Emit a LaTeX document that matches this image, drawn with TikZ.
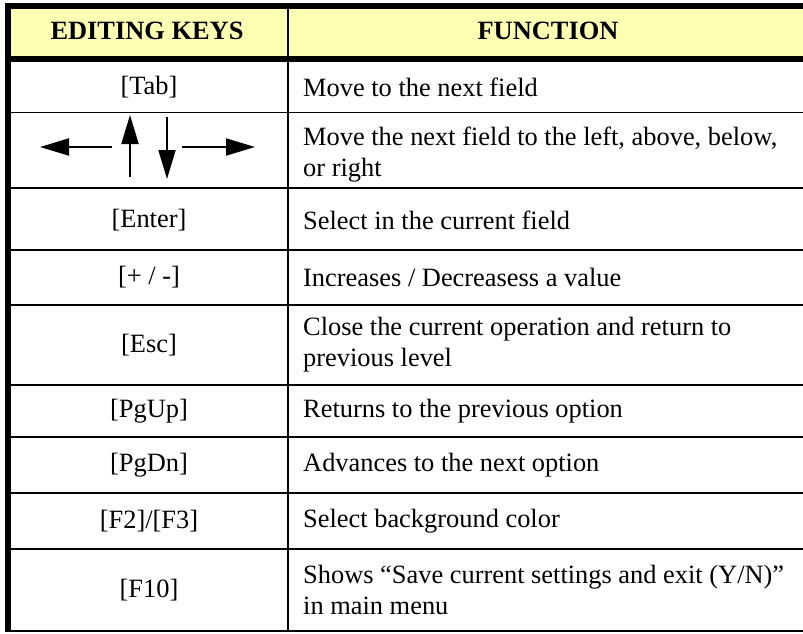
\documentclass[tikz,border=0pt]{standalone}
\usepackage{fontspec}
\setmainfont{Liberation Serif}
\usetikzlibrary{arrows.meta}
\definecolor{hdryellow}{RGB}{255,255,179}
\tikzset{
  cell/.style={inner sep=0pt, font=\fontsize{26.4}{31}\selectfont},
  keycell/.style={cell, anchor=center},
  funccell/.style={cell, anchor=west, align=left},
  hdr/.style={inner sep=0pt, font=\fontsize{26.4}{30}\selectfont\bfseries},
  thin/.style={line width=1.2pt},
  thick/.style={line width=6pt},
  keyarrow/.style={line width=2pt, -{Triangle[length=29pt,width=17pt]}}
}
\begin{document}
\begin{tikzpicture}[x=1pt,y=-1pt]
\useasboundingbox (0,0) rectangle (803,633);
% header fill
\fill[hdryellow] (11,8) rectangle (803,56);
% row lines
\foreach \yy in {112.5,188,250,305,385,437,493,549,631}
  \draw[thin] (11,\yy) -- (803,\yy);
% column divider
\draw[line width=1.5pt] (288,8) -- (288,631);
% thick borders
\draw[thick] (5,5.5) -- (803,5.5);
\draw[thick] (5,59) -- (803,59);
\draw[thick] (8,2.5) -- (8,631.6);
% headers
\node[hdr] (h1) at (147,31) {EDITING KEYS};
\node[hdr] (h2) at (548,31) {FUNCTION};
% key column
\node[keycell] (k1) at (149,87.5) {[Tab]};
\node[keycell] (k3) at (149,220) {[Enter]};
\node[keycell] (k4) at (149,277.5) {[+ / -]};
\node[keycell] (k5) at (149,345) {[Esc]};
\node[keycell] (k6) at (149,411) {[PgUp]};
\node[keycell] (k7) at (149,465) {[PgDn]};
\node[keycell] (k8) at (149,521) {[F2]/[F3]};
\node[keycell] (k9) at (149,590) {[F10]};
% arrows
\coordinate (la0) at (112,147);
\coordinate (la1) at (40,147);
\coordinate (ua0) at (130,177);
\coordinate (ua1) at (130,115);
\coordinate (da0) at (167,117);
\coordinate (da1) at (167,179);
\coordinate (ra0) at (182,147);
\coordinate (ra1) at (255,147);
\draw[keyarrow] (la0) -- (la1);
\draw[keyarrow] (ua0) -- (ua1);
\draw[keyarrow] (da0) -- (da1);
\draw[keyarrow] (ra0) -- (ra1);
% function column
\node[funccell] (f1) at (303,87.5) {Move to the next field};
\node[funccell] (f2) at (303,155) {Move the next field to the left, above, below,\\or right};
\node[funccell] (f3) at (303,220) {Select in the current field};
\node[funccell] (f4) at (303,277.5) {Increases / Decreasess a value};
\node[funccell] (f5) at (303,345) {Close the current operation and return to\\previous level};
\node[funccell] (f6) at (303,411) {Returns to the previous option};
\node[funccell] (f7) at (303,465) {Advances to the next option};
\node[funccell] (f8) at (303,521) {Select background color};
\node[funccell] (f9) at (303,590) {Shows “Save current settings and exit (Y/N)”\\in main menu};
\end{tikzpicture}
\end{document}
